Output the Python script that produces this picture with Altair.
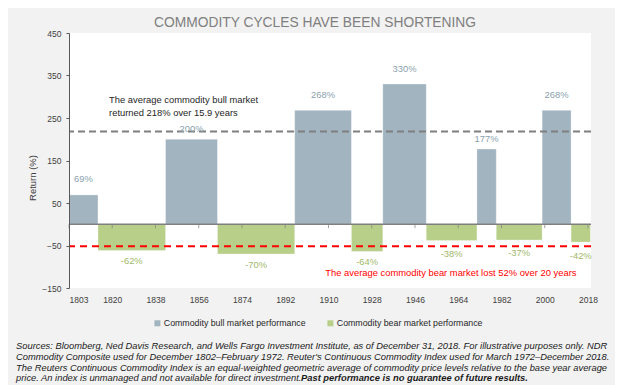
import altair as alt
import numpy as np
import pandas as pd

TITLE = "COMMODITY CYCLES HAVE BEEN SHORTENING"
SERIES = ["Commodity bull market performance", "Commodity bear market performance"]

BULL_START = [1803, 1843, 1896.5, 1933, 1972, 1999]
BULL_END = [1815, 1864.5, 1920, 1951, 1980, 2011]
BULL_RETURN = [69, 200, 268, 330, 177, 268]

BEAR_START = [1815, 1864.5, 1920, 1951, 1980, 2011]
BEAR_END = [1843, 1896.5, 1933, 1972, 1999, 2019]
BEAR_RETURN = [-62, -70, -64, -38, -37, -42]

AVG_BULL = 218
AVG_BEAR = -52

Y_TICKS = [-150, -50, 50, 150, 250, 350, 450]
X_TICK_LABELS = [1803, 1820, 1838, 1856, 1874, 1892, 1910, 1928, 1946, 1964, 1982, 2000, 2018]

BULL_NOTE = ["The average commodity bull market", "returned 218% over 15.9 years"]
BULL_NOTE_X = [1819.6, 1819.6]
BULL_NOTE_Y = [292, 262]
BEAR_NOTE = ["The average commodity bear market lost 52% over 20 years"]
BEAR_NOTE_X = [1961.2]
BEAR_NOTE_Y = [-115]

FOOTNOTE = [
    "Sources: Bloomberg, Ned Davis Research, and Wells Fargo Investment Institute, as of December 31, 2018. For illustrative purposes only. NDR",
    "Commodity Composite used for December 1802\u2013February 1972. Reuter's Continuous Commodity Index used for March 1972\u2013December 2018.",
    "The Reuters Continuous Commodity Index is an equal-weighted geometric average of commodity price levels relative to the base year average",
    "price. An index is unmanaged and not available for direct investment.",
]
FOOTNOTE_BOLD = "Past performance is no guarantee of future results."

FONT = "Liberation Sans"
BULL_COLOR = "#a2b4c0"
BEAR_COLOR = "#b7cf88"
BULL_TEXT = "#8a9fae"
BEAR_TEXT = "#9fb86a"
PANEL_COLOR = "#f2f2f2"

W, H = 522, 255
X_DOMAIN = [1803, 2019.25]
Y_DOMAIN = [-150, 450]

bars_df = pd.DataFrame({
    "start": BULL_START + BEAR_START,
    "end": BULL_END + BEAR_END,
    "ret": BULL_RETURN + BEAR_RETURN,
    "series": [SERIES[0]] * len(BULL_START) + [SERIES[1]] * len(BEAR_START),
})
bars_df["mid"] = (bars_df["start"] + bars_df["end"]) / 2
bars_df["label"] = bars_df["ret"].astype(int).astype(str) + "%"

tick_pos = np.linspace(X_TICK_LABELS[0], X_TICK_LABELS[-1], len(X_TICK_LABELS))
step = (X_TICK_LABELS[-1] - X_TICK_LABELS[0]) / (len(X_TICK_LABELS) - 1)
label_arr = "[" + ",".join("'%d'" % v for v in X_TICK_LABELS) + "]"
label_expr = f"{label_arr}[round((datum.value - {X_TICK_LABELS[0]}) / {step})]"
ticks_df = pd.DataFrame({"pos": tick_pos})

xscale = alt.Scale(domain=X_DOMAIN, nice=False, zero=False)
yscale = alt.Scale(domain=Y_DOMAIN, nice=False, zero=False)

xaxis = alt.Axis(values=list(tick_pos), labelExpr=label_expr, domain=False, ticks=False,
                 grid=False, labelPadding=7, labelFont=FONT, labelFontSize=8.5,
                 labelColor="#404040", zindex=1)
yaxis = alt.Axis(values=Y_TICKS, grid=False, domainColor="#595959", tickColor="#595959",
                 tickSize=3, labelPadding=5, labelFont=FONT, labelFontSize=8.5,
                 labelColor="#404040", titleFont=FONT, titleFontSize=9.5,
                 titleColor="#404040", titleFontWeight="normal", titleX=-36.5,
                 titleY=144.5, titleAngle=270, titleAlign="center",
                 titleBaseline="middle", zindex=1)

one = pd.DataFrame({"a": [0]})

title = alt.Chart(one).mark_text(
    font=FONT, fontSize=13.8, color="#7f7f7f", align="center", baseline="alphabetic"
).encode(x=alt.value(246), y=alt.value(-6), text=alt.value(TITLE))

bars = alt.Chart(bars_df).mark_rect(stroke="white", strokeWidth=0.5, strokeOpacity=0.6).encode(
    x=alt.X("start:Q", scale=xscale, axis=xaxis, title=None),
    x2="end:Q",
    y=alt.Y("ret:Q", scale=yscale, axis=yaxis, title="Return (%)"),
    y2=alt.datum(0),
    color=alt.Color("series:N", scale=alt.Scale(domain=SERIES, range=[BULL_COLOR, BEAR_COLOR]),
                    legend=alt.Legend(orient="none", legendX=84, legendY=285.5,
                                      direction="horizontal", title=None,
                                      symbolType="square", symbolSize=36,
                                      symbolStrokeWidth=0, labelFont=FONT,
                                      labelFontSize=8.8, labelColor="#262626",
                                      columnPadding=20, labelOffset=2,
                                      labelLimit=300, padding=0, zindex=1)),
)

zero = alt.Chart(one).mark_rule(color="#7f7f7f", strokeWidth=1.5).encode(y=alt.datum(0))
zticks = alt.Chart(ticks_df).mark_tick(orient="vertical", size=4, thickness=1, yOffset=2,
                                       color="#7f7f7f").encode(
    x=alt.X("pos:Q", title=None), y=alt.datum(0))

avg_bull = alt.Chart(one).mark_rule(color="#7f7f7f", strokeWidth=2, strokeDash=[7, 4]).encode(
    y=alt.datum(AVG_BULL))
avg_bear = alt.Chart(one).mark_rule(color="#ff0000", strokeWidth=2, strokeDash=[7, 5]).encode(
    y=alt.datum(AVG_BEAR))

bull_df = bars_df[bars_df["ret"] > 0]
bear_df = bars_df[bars_df["ret"] < 0]
# labels sitting just under the average line are nudged closer to their bar
bull_near = bull_df[(bull_df["ret"] < AVG_BULL) & (bull_df["ret"] > AVG_BULL - 50)]
bull_far = bull_df.drop(bull_near.index)
bear_above = bear_df[bear_df["ret"] > AVG_BEAR]
bear_below = bear_df.drop(bear_above.index)


def value_labels(d, color, dy):
    return alt.Chart(d).mark_text(
        font=FONT, fontSize=9.4, color=color, baseline="middle", dy=dy).encode(
        x=alt.X("mid:Q", title=None), y="ret:Q", text="label:N")


label_layers = [
    value_labels(bull_far, BULL_TEXT, -15.5),
    value_labels(bull_near, BULL_TEXT, -10),
    value_labels(bear_above, BEAR_TEXT, 13.5),
    value_labels(bear_below, BEAR_TEXT, 10.5),
]

bull_note = alt.Chart(pd.DataFrame({"x": BULL_NOTE_X, "y": BULL_NOTE_Y, "t": BULL_NOTE})).mark_text(
    font=FONT, fontSize=9.4, color="#262626", align="left", baseline="middle").encode(
    x=alt.X("x:Q", title=None), y="y:Q", text="t:N")
bear_note = alt.Chart(pd.DataFrame({"x": BEAR_NOTE_X, "y": BEAR_NOTE_Y, "t": BEAR_NOTE})).mark_text(
    font=FONT, fontSize=9.4, color="#ff0000", align="center", baseline="middle").encode(
    x=alt.X("x:Q", title=None), y="y:Q", text="t:N")

foot_layers = []
foot_y = [313.3, 324, 334.7, 345.3]
for line, yy in zip(FOOTNOTE, foot_y):
    foot_layers.append(alt.Chart(one).mark_text(
        font=FONT, fontSize=9.35, fontStyle="italic", color="#1a1a1a", align="left",
        baseline="middle").encode(x=alt.value(-53), y=alt.value(yy), text=alt.value(line)))
foot_layers.append(alt.Chart(one).mark_text(
    font=FONT, fontSize=9.35, fontStyle="italic", fontWeight="bold", color="#1a1a1a",
    align="left", baseline="middle").encode(x=alt.value(232), y=alt.value(foot_y[3]),
                                            text=alt.value(FOOTNOTE_BOLD)))

chart = alt.layer(
    title, bars, zero, zticks, avg_bull, avg_bear,
    *label_layers, bull_note, bear_note, *foot_layers,
).properties(
    width=W, height=H,
    autosize=alt.AutoSizeParams(type="none"),
    padding={"left": 61, "top": 25, "right": 24, "bottom": 97},
    background=PANEL_COLOR,
).configure_view(strokeWidth=0, fill="white")

chart.save("out.html", embed_options={"renderer": "svg", "actions": False})
